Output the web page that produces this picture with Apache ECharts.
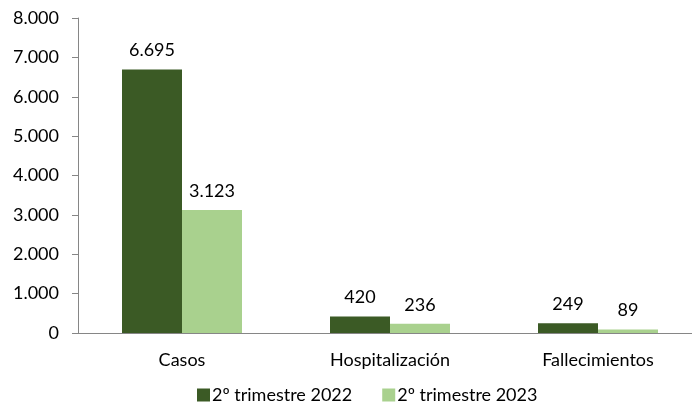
<!DOCTYPE html>
<html><head><meta charset="utf-8">
<script src="https://cdn.jsdelivr.net/npm/echarts@6/dist/echarts.min.js"></script>
<style>html,body{margin:0;padding:0;background:#fff;overflow:hidden;width:692px;height:409px}#c{width:702px;height:409px}</style>
</head><body><div id="c"></div>
<script>
const categories = ['Casos', 'Hospitalización', 'Fallecimientos'];
const series2022 = [6695, 420, 249];
const series2023 = [3123, 236, 89];
const seriesNames = ['2º trimestre 2022', '2º trimestre 2023'];
const fmt = v => String(v).replace(/\B(?=(\d{3})+(?!\d))/g, '.');
const font = 'Lato, "Open Sans", sans-serif';
const chart = echarts.init(document.getElementById('c'), null, {renderer: 'canvas'});
chart.setOption({
  animation: false,
  textStyle: {fontFamily: font},
  grid: {left: 78, right: 0, top: 18, bottom: 76, containLabel: false},
  legend: {
    bottom: 0, left: 192, itemWidth: 13, itemHeight: 13, itemGap: 30,
    icon: 'rect', textStyle: {fontFamily: font, fontSize: 18, color: '#000', padding: [0, 0, 0, -3]},
    data: seriesNames
  },
  xAxis: {
    type: 'category', data: categories,
    axisLine: {lineStyle: {color: '#868686'}},
    axisTick: {length: 6, lineStyle: {color: '#868686'}},
    axisLabel: {fontFamily: font, fontSize: 18, color: '#000', margin: 18}
  },
  yAxis: {
    type: 'value', min: 0, max: 8000, interval: 1000,
    splitLine: {show: false},
    axisLine: {show: true, lineStyle: {color: '#868686'}},
    axisTick: {show: true, length: 6, lineStyle: {color: '#868686'}},
    axisLabel: {fontFamily: font, fontSize: 18, color: '#000', margin: 19, formatter: fmt}
  },
  series: [
    {name: seriesNames[0], type: 'bar', data: series2022, barWidth: 60, barGap: '0%',
     itemStyle: {color: '#3b5a25'},
     label: {show: true, position: 'top', distance: 10, fontFamily: font, fontSize: 18, color: '#000', formatter: p => fmt(p.value)}},
    {name: seriesNames[1], type: 'bar', data: series2023, barWidth: 60, barGap: '0%',
     itemStyle: {color: '#a9d18e'},
     label: {show: true, position: 'top', distance: 10, fontFamily: font, fontSize: 18, color: '#000', formatter: p => fmt(p.value)}}
  ]
});
</script></body></html>
